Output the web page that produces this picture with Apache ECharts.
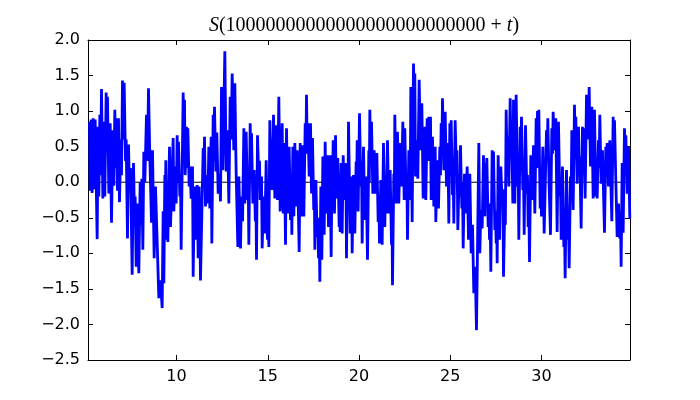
<!DOCTYPE html>
<html>
<head>
<meta charset="utf-8">
<script src="https://cdn.jsdelivr.net/npm/echarts@6/dist/echarts.min.js"></script>
<style>
html, body { margin: 0; background: #fff; }
#chart { width: 700px; height: 400px; }
</style>
</head>
<body>
<div id="chart"></div>
<script>
// turning points of the curve (t, S)
const tVals = [
  5.232, 5.269, 5.324, 5.378, 5.433, 5.488, 5.543, 5.579, 5.652, 5.707, 5.744, 5.798, 5.835, 5.890, 5.963, 6.018, 6.072, 6.145, 6.182, 6.218,
  6.292, 6.365, 6.438, 6.511, 6.566, 6.620, 6.675, 6.712, 6.766, 6.821, 6.876, 6.949, 6.986, 7.040, 7.095, 7.132, 7.205, 7.241, 7.314, 7.369,
  7.424, 7.479, 7.570, 7.643, 7.698, 7.735, 7.789, 7.844, 7.935, 8.008, 8.045, 8.100, 8.155, 8.209, 8.264, 8.355, 8.410, 8.465, 8.538, 8.629,
  8.684, 8.775, 8.849, 9.032, 9.123, 9.214, 9.269, 9.306, 9.360, 9.388, 9.415, 9.452, 9.488, 9.525, 9.616, 9.671, 9.817, 9.854, 9.927, 9.981,
  10.036, 10.073, 10.109, 10.182, 10.219, 10.255, 10.365, 10.402, 10.438, 10.475, 10.548, 10.584, 10.621, 10.694, 10.730, 10.803, 10.876, 10.913, 10.986, 11.041,
  11.132, 11.187, 11.242, 11.315, 11.461, 11.497, 11.534, 11.589, 11.680, 11.717, 11.771, 11.826, 11.899, 11.936, 12.009, 12.045, 12.082, 12.155, 12.210, 12.283,
  12.356, 12.411, 12.466, 12.539, 12.648, 12.721, 12.795, 12.868, 12.941, 12.995, 13.050, 13.141, 13.196, 13.269, 13.361, 13.416, 13.507, 13.560, 13.620, 13.690,
  13.744, 13.817, 13.890, 13.927, 13.963, 14.037, 14.073, 14.110, 14.183, 14.256, 14.320, 14.350, 14.384, 14.438, 14.511, 14.548, 14.584, 14.657, 14.694, 14.767,
  14.840, 14.913, 14.986, 15.023, 15.059, 15.114, 15.151, 15.187, 15.242, 15.315, 15.388, 15.461, 15.534, 15.607, 15.680, 15.790, 15.845, 15.900, 15.973, 16.028,
  16.101, 16.174, 16.247, 16.283, 16.320, 16.375, 16.430, 16.484, 16.557, 16.612, 16.722, 16.777, 16.850, 16.905, 16.978, 17.051, 17.087, 17.124, 17.160, 17.197,
  17.270, 17.343, 17.398, 17.452, 17.520, 17.550, 17.580, 17.635, 17.708, 17.745, 17.781, 17.818, 17.854, 17.909, 17.964, 18.019, 18.092, 18.146, 18.201, 18.256,
  18.329, 18.402, 18.475, 18.530, 18.555, 18.585, 18.658, 18.713, 18.767, 18.840, 18.913, 18.940, 18.968, 19.023, 19.078, 19.133, 19.206, 19.279, 19.315, 19.370,
  19.400, 19.425, 19.516, 19.589, 19.625, 19.698, 19.771, 19.844, 19.870, 19.899, 19.954, 20.027, 20.100, 20.137, 20.173, 20.246, 20.319, 20.392, 20.465, 20.539,
  20.566, 20.593, 20.648, 20.685, 20.758, 20.831, 20.904, 20.977, 21.050, 21.087, 21.123, 21.196, 21.269, 21.342, 21.415, 21.452, 21.488, 21.561, 21.634, 21.707,
  21.781, 21.808, 21.835, 21.908, 21.935, 21.963, 22.036, 22.109, 22.182, 22.255, 22.328, 22.402, 22.475, 22.511, 22.584, 22.621, 22.657, 22.730, 22.803, 22.840,
  22.913, 22.986, 23.023, 23.059, 23.096, 23.151, 23.224, 23.297, 23.370, 23.443, 23.516, 23.589, 23.662, 23.735, 23.790, 23.827, 23.863, 23.918, 23.954, 24.027,
  24.101, 24.174, 24.210, 24.283, 24.356, 24.429, 24.466, 24.502, 24.539, 24.575, 24.648, 24.722, 24.795, 24.868, 24.922, 24.977, 25.014, 25.050, 25.123, 25.160,
  25.196, 25.269, 25.342, 25.370, 25.416, 25.489, 25.525, 25.562, 25.635, 25.671, 25.708, 25.781, 25.854, 25.927, 26.000, 26.073, 26.146, 26.219, 26.292, 26.365,
  26.438, 26.566, 26.621, 26.676, 26.749, 26.822, 26.895, 26.932, 26.968, 27.005, 27.078, 27.115, 27.151, 27.188, 27.224, 27.297, 27.334, 27.370, 27.443, 27.480,
  27.516, 27.545, 27.571, 27.626, 27.699, 27.772, 27.845, 27.882, 27.918, 27.991, 28.020, 28.064, 28.101, 28.137, 28.210, 28.284, 28.320, 28.357, 28.430, 28.466,
  28.539, 28.612, 28.685, 28.722, 28.758, 28.831, 28.868, 28.904, 28.977, 29.014, 29.051, 29.124, 29.197, 29.233, 29.270, 29.306, 29.343, 29.416, 29.489, 29.562,
  29.635, 29.708, 29.745, 29.781, 29.818, 29.854, 29.927, 29.964, 30.000, 30.073, 30.146, 30.274, 30.310, 30.347, 30.420, 30.493, 30.566, 30.603, 30.639, 30.712,
  30.785, 30.858, 30.931, 31.004, 31.041, 31.077, 31.150, 31.224, 31.260, 31.297, 31.370, 31.443, 31.479, 31.516, 31.589, 31.625, 31.662, 31.735, 31.808, 31.845,
  31.881, 31.954, 32.027, 32.064, 32.100, 32.173, 32.246, 32.283, 32.320, 32.393, 32.466, 32.502, 32.539, 32.575, 32.612, 32.685, 32.758, 32.831, 32.904, 32.977,
  33.014, 33.050, 33.123, 33.160, 33.196, 33.269, 33.342, 33.452, 33.525, 33.562, 33.598, 33.671, 33.744, 33.854, 33.927, 33.964, 34.000, 34.073, 34.146, 34.219,
  34.292, 34.329, 34.365, 34.420, 34.475, 34.548, 34.584, 34.621, 34.694, 34.767, 34.840
];
const sVals = [
  0.85, -0.12, 0.88, -0.15, 0.90, -0.10, 0.88, 0.30, -0.80, 0.78, -0.20, 0.95, 0.10, 1.31, -0.23, 0.85, -0.20, 1.26, 0.50, 1.20,
  -0.16, 0.83, -0.57, 0.73, -0.05, 1.02, 0.20, 0.90, -0.12, 0.90, -0.28, 0.60, 0.10, 1.43, 0.60, 1.40, 0.30, 0.60, -0.79, 0.53,
  -0.10, 0.20, -1.30, 0.27, -0.50, -0.20, -1.19, -0.30, -1.28, 0.00, -0.60, 0.05, -0.95, 0.43, 0.00, 0.95, 0.30, 1.32, 0.35, -0.57,
  0.45, -1.07, -0.06, -1.63, -1.38, -1.77, -0.41, -1.42, 0.10, -0.30, 0.31, -0.81, -0.25, -0.84, 0.50, -0.63, 0.62, -0.41, 0.22, -0.30,
  0.66, 0.00, 0.57, -0.20, 0.10, -0.95, 1.26, 0.50, 1.16, 0.10, 0.78, 0.20, 0.76, -0.06, 0.22, -0.23, 0.22, -1.33, -0.06, -0.81,
  -0.04, -1.07, -0.06, -1.38, 0.48, 0.00, 0.64, -0.34, 0.10, -0.30, 0.50, -0.37, 0.64, -0.86, 0.95, 0.30, 1.06, 0.15, 0.70, -0.16,
  0.12, -0.27, 1.34, 0.17, 1.84, 0.15, 0.73, -0.30, 1.20, 0.60, 1.53, 0.45, 1.39, 0.12, -0.91, 0.08, -0.93, -0.20, -0.55, 0.76,
  -0.30, 0.71, -0.25, 0.10, -0.88, 0.83, 0.30, 0.69, -0.30, 0.17, -0.55, -0.20, -1.09, 0.66, 0.03, 0.30, -0.25, 0.08, -0.93, -0.20,
  -0.72, 0.31, -0.81, -0.40, -0.91, 0.87, 0.30, 0.59, -0.11, 0.95, -0.23, 0.80, -0.25, 1.20, -0.41, 0.83, -0.44, 0.55, -0.88, 0.76,
  -0.44, 0.50, -0.53, 0.10, -0.74, 0.50, -0.48, 0.55, -0.34, 0.45, -0.98, 0.55, -0.48, 0.52, -0.48, 0.83, 0.40, 1.23, 0.50, 0.83,
  0.08, 0.83, -0.16, 0.62, -0.39, -0.05, -0.95, 0.03, -0.77, -0.50, -1.07, -0.70, -1.40, -0.06, -1.09, 0.36, -0.74, 0.57, -0.44, 0.38,
  -0.63, 0.38, -1.05, 0.38, 0.00, 0.59, -0.44, 0.66, -0.23, 0.34, -0.63, -0.20, -0.70, 0.27, -0.72, 0.38, -0.25, 0.27, -1.07, 0.27,
  -0.10, 0.85, -0.72, 0.08, -1.00, 0.10, -0.72, 0.29, -0.10, 0.59, -0.41, 0.97, -0.06, 0.30, -0.86, 0.50, -0.53, 0.08, -1.09, 0.45,
  0.00, 1.02, 0.30, 0.85, -0.16, 0.45, -0.16, 0.41, -0.56, -0.20, -0.86, 0.03, -0.88, 0.55, -0.63, 0.00, -0.44, 0.59, -0.44, 0.17,
  -0.88, -0.40, -1.45, 0.12, -0.20, 0.95, -0.30, 0.71, -0.30, 0.55, -0.06, 0.85, -0.25, 0.76, -0.25, 0.10, -0.81, 0.45, -0.25, 1.34,
  -0.56, 1.67, 1.20, 1.53, 0.08, 0.59, 0.05, 1.44, 0.45, 1.11, -0.23, 0.78, -0.25, 0.90, 0.30, 0.92, 0.40, 0.92, -0.25, 0.64,
  -0.34, 0.50, -0.56, 0.31, -0.37, 0.50, 0.10, 0.83, 0.40, 1.18, 0.17, 0.99, -0.06, 0.55, -0.58, 0.83, 0.30, 0.87, -0.18, 0.10,
  -0.58, 0.87, 0.12, 0.45, -0.67, 0.12, -0.20, 0.52, -0.37, 0.00, -0.93, 0.12, -0.44, 0.22, -0.81, 0.12, -1.00, -0.60, -1.56, -1.19,
  -2.08, 0.55, -1.00, -0.39, -0.65, 0.38, -0.48, 0.27, -0.10, 0.34, -0.63, -0.30, -0.81, -0.50, -1.26, 0.45, 0.00, 0.43, -0.67, -0.40,
  -0.86, -0.50, -1.14, 0.38, -0.81, 0.22, -0.34, -0.10, -1.33, -0.30, -0.60, 1.02, 0.50, 0.64, -0.06, 1.18, 0.60, 0.85, -0.30, 1.16,
  -0.30, 1.23, -0.06, 0.20, -0.81, 0.78, 0.40, 0.92, -0.11, 0.10, -0.74, 0.80, -0.16, 0.10, -0.63, -0.30, -1.12, 0.38, -0.25, 0.52,
  -0.44, 0.90, 0.50, 1.00, 0.20, 1.02, -0.37, -0.10, -0.48, 0.50, -0.72, 0.73, 0.30, 0.90, -0.06, -0.74, 0.76, 0.40, 0.99, 0.45,
  0.90, -0.70, 0.85, -0.20, 0.00, -0.81, 0.22, -0.91, -0.60, -1.35, 0.17, -0.81, -0.50, -1.21, 0.08, -0.20, 0.73, -0.39, 1.09, 0.50,
  0.92, -0.02, 0.78, 0.20, 0.36, -0.65, 0.78, 0.30, 0.76, -0.23, 1.23, 0.60, 1.20, 0.70, 1.34, 0.22, 1.06, -0.23, 1.02, -0.20,
  0.10, -0.23, 0.59, 0.20, 0.95, -0.02, 0.45, -0.71, 0.50, 0.20, 0.55, -0.06, 0.59, -0.55, 0.92, 0.50, 0.87, 0.03, -0.77, -0.30,
  -0.79, -0.50, -1.19, 0.27, -0.71, 0.76, 0.40, 0.66, -0.16, 0.50, -0.51
];
const xRange = [5.15, 34.85];
const yRange = [-2.5, 2.0];
const xTickStep = 5;
const yTickStep = 0.5;

let myChart = echarts.init(document.getElementById("chart"))

let tickStyle = { inside: true, length: 5, lineStyle: { color: "#000", width: 1 } }
let frameLine = { show: true, onZero: false, lineStyle: { color: "#000", width: 1 } }
let labelStyle = { color: "#000", fontSize: 16, fontFamily: "DejaVu Sans" }

myChart.setOption({
  animation: false,
  title: {
    text: "{i|S}{n|(10000000000000000000000000 + }{i|t}{n|)}",
    left: 359,
    top: 11,
    textAlign: "center",
    textStyle: {
      fontWeight: "normal",
      rich: {
        i: { fontFamily: "Liberation Serif", fontStyle: "italic", fontWeight: "normal", fontSize: 20, color: "#000" },
        n: { fontFamily: "Liberation Serif", fontWeight: "normal", fontSize: 20, color: "#000" },
      },
    },
  },
  grid: { left: 88, right: 70, top: 40, bottom: 40 },
  xAxis: [
    {
      type: "value",
      position: "bottom",
      min: xRange[0],
      max: xRange[1],
      axisLine: frameLine,
      axisTick: tickStyle,
      splitLine: { show: false },
      axisLabel: {
        ...labelStyle,
        margin: 9,
        formatter: (v) => (Math.abs(v / xTickStep - Math.round(v / xTickStep)) < 1e-6 ? String(v) : ""),
      },
    },
    {
      type: "value",
      position: "top",
      min: xRange[0],
      max: xRange[1],
      axisLine: frameLine,
      axisTick: tickStyle,
      splitLine: { show: false },
      axisLabel: { show: false },
    },
  ],
  yAxis: [
    {
      type: "value",
      position: "left",
      min: yRange[0],
      max: yRange[1],
      interval: yTickStep,
      axisLine: frameLine,
      axisTick: tickStyle,
      splitLine: { show: false },
      axisLabel: {
        ...labelStyle,
        margin: 8,
        formatter: (v) => v.toFixed(1).replace("-", "\u2212"),
      },
    },
    {
      type: "value",
      position: "right",
      min: yRange[0],
      max: yRange[1],
      interval: yTickStep,
      axisLine: frameLine,
      axisTick: tickStyle,
      splitLine: { show: false },
      axisLabel: { show: false },
    },
  ],
  series: [
    {
      name: "zero",
      type: "line",
      data: [[xRange[0], 0], [xRange[1], 0]],
      symbol: "none",
      silent: true,
      lineStyle: { color: "#000", width: 1 },
      z: 1,
    },
    {
      name: "S",
      type: "line",
      data: tVals.map((t, i) => [t, sVals[i]]),
      symbol: "none",
      clip: true,
      lineStyle: { color: "#0000ff", width: 2.8 },
      z: 2,
    },
  ],
})
</script>
</body>
</html>
